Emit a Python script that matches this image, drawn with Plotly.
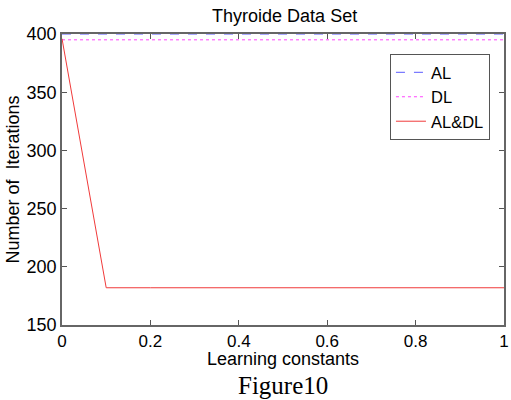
import plotly.graph_objects as go

x_vals = [0, 0.1, 0.2, 0.3, 0.4, 0.5, 0.6, 0.7, 0.8, 0.9, 1.0]
al_vals = [400, 400, 400, 400, 400, 400, 400, 400, 400, 400, 400]
dl_vals = [395, 395, 395, 395, 395, 395, 395, 395, 395, 395, 395]
aldl_vals = [396, 182, 182, 182, 182, 182, 182, 182, 182, 182, 182]
x_ticks = [0, 0.2, 0.4, 0.6, 0.8, 1]
x_tick_text = ["0", "0.2", "0.4", "0.6", "0.8", "1"]
y_ticks = [150, 200, 250, 300, 350, 400]

fig = go.Figure()
fig.add_trace(go.Scatter(x=x_vals, y=al_vals, name="AL", mode="lines",
                         line=dict(color="#5a5aff", width=1, dash="dash")))
fig.add_trace(go.Scatter(x=x_vals, y=dl_vals, name="DL", mode="lines",
                         line=dict(color="#ff44ff", width=1, dash="dot")))
fig.add_trace(go.Scatter(x=x_vals, y=aldl_vals, name="AL&DL", mode="lines",
                         line=dict(color="#f03a3a", width=1)))

font = "Liberation Sans, Arial, sans-serif"
fig.update_layout(
    width=511, height=400,
    margin=dict(l=62, r=2, t=34, b=75),
    paper_bgcolor="white", plot_bgcolor="white",
    font=dict(family=font, size=17, color="black"),
    title=dict(text="Thyroide Data Set", x=0.557, xanchor="center", y=0.96, yanchor="middle",
               font=dict(size=18, family=font)),
    showlegend=True,
    legend=dict(x=0.742, y=0.931, xanchor="left", yanchor="top",
                bordercolor="#555", borderwidth=1, bgcolor="white",
                font=dict(size=16.5, family=font), tracegroupgap=0,
                itemwidth=30),
    xaxis=dict(range=[0, 1], tickvals=x_ticks, ticktext=x_tick_text,
               ticks="inside", ticklen=5, tickcolor="#555",
               showline=True, linecolor="#666", linewidth=1.6, mirror="ticks",
               layer="above traces", tickfont=dict(size=17),
               showgrid=False, zeroline=False, ticklabeloverflow="allow"),
    yaxis=dict(range=[150, 400], tickvals=y_ticks,
               ticks="inside", ticklen=5, tickcolor="#555",
               showline=True, linecolor="#666", linewidth=1.6, mirror="ticks",
               layer="above traces", tickfont=dict(size=18),
               showgrid=False, zeroline=False,
               title=dict(text="Number of  Iterations", standoff=2, font=dict(size=18))),
)
fig.add_annotation(text="Learning constants", xref="paper", yref="paper", x=0.5, y=-0.118,
                   xanchor="center", yanchor="middle", showarrow=False,
                   font=dict(family=font, size=18, color="black"))
fig.add_annotation(text="Figure10", xref="paper", yref="paper", x=0.5, y=-0.207,
                   xanchor="center", yanchor="middle", showarrow=False,
                   font=dict(family="Liberation Serif, Times New Roman, serif", size=25, color="black"))
fig.write_html("out.html")
